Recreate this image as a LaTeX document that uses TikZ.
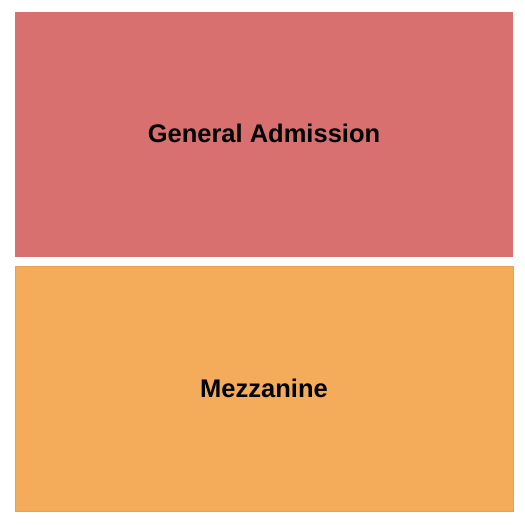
\documentclass[tikz,border=0pt]{standalone}
\usepackage{fontspec}
\setmainfont{Liberation Sans}
\definecolor{garose}{HTML}{D87070}
\definecolor{mezz}{HTML}{F4AC5A}
\definecolor{mezzedge}{HTML}{E8A255}
\begin{document}
\begin{tikzpicture}[x=1pt,y=-1pt,
  section/.style={anchor=north west, inner sep=0pt, outer sep=0pt},
  lbl/.style={font=\fontsize{25.5}{30}\selectfont\bfseries, text=black}]
\useasboundingbox (0,0) rectangle (525,525);
\node[section, fill=garose, minimum width=498pt, minimum height=245pt] (ga) at (15,12) {};
\node[section, fill=mezz, draw=mezzedge, line width=0.6pt, minimum width=498pt, minimum height=245pt] (mz) at (15,266) {};
\node[lbl] (galbl) at ([yshift=1.5pt]ga.center) {General Admission};
\node[lbl] (mzlbl) at ([yshift=0.5pt]mz.center) {Mezzanine};
\end{tikzpicture}
\end{document}
